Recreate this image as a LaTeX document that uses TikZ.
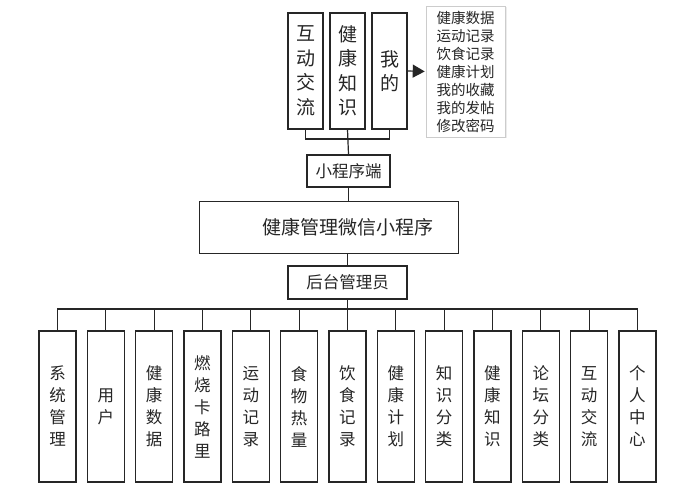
\documentclass[tikz,border=0pt]{standalone}
\usepackage{fontspec}
\newfontfamily\cjk{Noto Sans CJK SC}
\usetikzlibrary{arrows.meta,shadows}
\begin{document}
\begin{tikzpicture}[x=1pt,y=-1pt,
  every node/.style={font=\cjk, text=black!85},
  box/.style={draw=black!85, line width=1.3pt, inner sep=0pt, align=center},
  topbox/.style={box, minimum width=35pt, minimum height=116pt, font=\cjk\fontsize{19}{24.5}\selectfont},
  botbox/.style={box, minimum width=37pt, minimum height=151pt, font=\cjk\fontsize{16.5}{22}\selectfont},
  wire/.style={draw=black!85, line width=1.2pt}]
\useasboundingbox (0,0) rectangle (692,494);
\fill[white] (0,0) rectangle (692,494);

% top boxes
\node[topbox] (t1) at (305.5,71) {互\\动\\交\\流};
\node[topbox] (t2) at (347.5,71) {健\\康\\知\\识};
\node[topbox] (t3) at (389.5,71) {我\\的};

% list box
\node[draw=black!20, line width=0.6pt, fill=white, drop shadow={opacity=0.15, shadow xshift=1.5pt, shadow yshift=-1.5pt},
      minimum width=79pt, minimum height=131pt, inner sep=0pt, align=left,
      font=\cjk\fontsize{14.5}{18}\selectfont] (list) at (465.5,71.5)
  {健康数据\\运动记录\\饮食记录\\健康计划\\我的收藏\\我的发帖\\修改密码};

\draw[wire, -{Triangle[length=12pt,width=13pt]}, shorten >=1pt] (t3.east) -- (list.west);

% mini program end
\node[box, minimum width=83pt, minimum height=32pt, font=\cjk\fontsize{16.5}{20}\selectfont] (xcx) at (348.5,171) {小程序端};
\coordinate (tbar) at (347.5,139);
\draw[wire] (t1.south) |- (t3.south |- tbar) -- (t3.south);
\draw[wire] (t2.south) -- (xcx.north);

% main box
\node[draw=black!85, line width=0.8pt, minimum width=259pt, minimum height=52pt, inner sep=0pt,
      font=\cjk\fontsize{19}{22}\selectfont] (main) at (328.5,227) {\hspace*{38pt}健康管理微信小程序};
\draw[wire] (xcx.south) -- (xcx.south |- main.north);

% admin
\node[box, minimum width=119pt, minimum height=33pt, font=\cjk\fontsize{16.5}{20}\selectfont] (admin) at (347.5,282.5) {后台管理员};
\draw[wire] (admin.north |- main.south) -- (admin.north);

% bottom boxes
\foreach \i/\t in {0/{系\\统\\管\\理},1/{用\\户},2/{健\\康\\数\\据},3/{燃\\烧\\卡\\路\\里},4/{运\\动\\记\\录},
                   5/{食\\物\\热\\量},6/{饮\\食\\记\\录},7/{健\\康\\计\\划},8/{知\\识\\分\\类},9/{健\\康\\知\\识},
                   10/{论\\坛\\分\\类},11/{互\\动\\交\\流},12/{个\\人\\中\\心}}
  \node[botbox] (b\i) at ({57.5+48.33*\i},406.5) {\t};

\coordinate (bbar) at (347.5,309);
\draw[wire] (admin.south) -- (bbar);
\draw[wire] (b0.north) |- (b12.north |- bbar) -- (b12.north);
\foreach \i in {1,...,11}
  \draw[wire] (b\i.north) -- (b\i.north |- bbar);
\end{tikzpicture}
\end{document}
